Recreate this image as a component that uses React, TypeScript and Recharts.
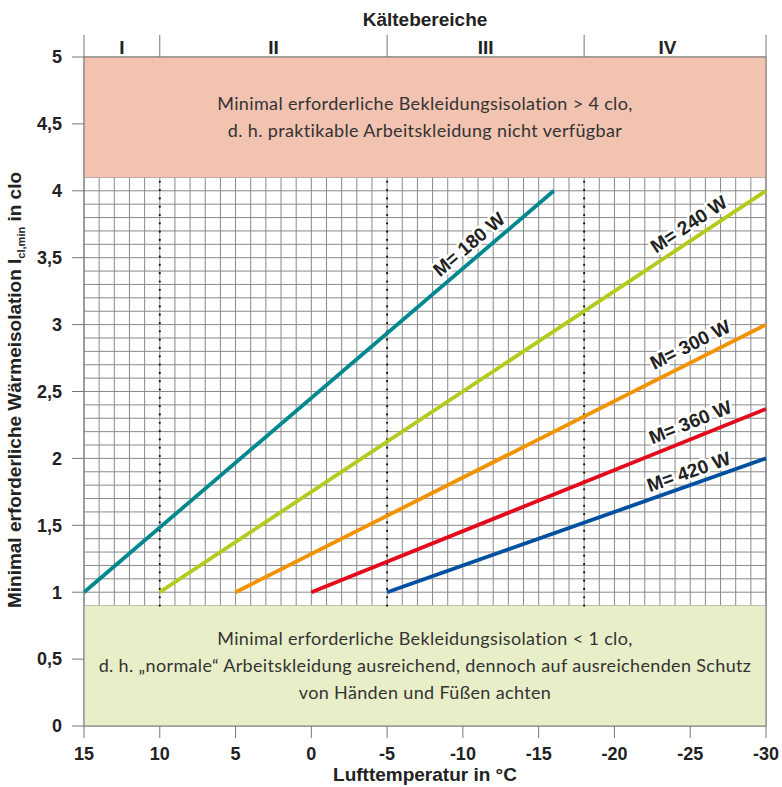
import {
  ComposedChart,
  Line,
  XAxis,
  YAxis,
  CartesianGrid,
  ReferenceArea,
  ReferenceLine,
  ReferenceDot,
  Customized,
} from "recharts";

const xTicks = [15, 10, 5, 0, -5, -10, -15, -20, -25, -30];
const yTicks = [0, 0.5, 1, 1.5, 2, 2.5, 3, 3.5, 4, 4.5, 5];

// fine grid: 1 °C x 0.1 clo
const gridX = Array.from({ length: 46 }, (_, i) => 15 - i);
const gridY = Array.from({ length: 51 }, (_, i) => i / 10);

// Kältebereiche I–IV
const rangeBounds = [15, 10, -5, -18, -30];
const rangeLabels = ["I", "II", "III", "IV"];
const rangeLabelX = [12.5, 2.5, -11.5, -23.5];
const dottedX = [10, -5, -18];

// minimal clothing insulation per metabolic rate
const m180 = [{ t: 15, clo: 1 }, { t: -16, clo: 4 }];
const m240 = [{ t: 10, clo: 1 }, { t: -30, clo: 4 }];
const m300 = [{ t: 5, clo: 1 }, { t: -30, clo: 3 }];
const m360 = [{ t: 0, clo: 1 }, { t: -30, clo: 2.37 }];
const m420 = [{ t: -5, clo: 1 }, { t: -30, clo: 2 }];

const seriesNames = ["M= 180 W", "M= 240 W", "M= 300 W", "M= 360 W", "M= 420 W"];
const seriesData = [m180, m240, m300, m360, m420];
const seriesColors = ["#00878F", "#B4CB1E", "#F39200", "#E30A1C", "#0050A0"];

// where the "M= ..." labels sit (°C, clo) and their tilt
const labelT = [-10.4, -24.9, -25, -25, -24.9];
const labelClo = [3.6, 3.75, 2.85, 2.27, 1.9];
const labelAngle = [-40.5, -33.5, -26.7, -21.9, -19.3];

const upperText = [
  "Minimal erforderliche Bekleidungsisolation > 4 clo,",
  "d. h. praktikable Arbeitskleidung nicht verfügbar",
];
const lowerText = [
  "Minimal erforderliche Bekleidungsisolation < 1 clo,",
  "d. h. „normale“ Arbeitskleidung ausreichend, dennoch auf ausreichenden Schutz",
  "von Händen und Füßen achten",
];

const AXIS = "#777";
const TEXT = "#222";
// band above the plot holding the Kältebereiche, in clo units
const BAND_TOP = 5.165;
const BAND_LABEL = 5.07;

const areaText = (lines: string[]) => (p: any) => (
  <g>
    {lines.map((s, i) => (
      <text
        key={i}
        x={p.cx}
        y={p.cy + (i - (lines.length - 1) / 2) * 27 + 6}
        textAnchor="middle"
        fontFamily="Lato, 'Open Sans', sans-serif"
        fontSize={18}
        letterSpacing={0.35}
        fill="#333"
      >
        {s}
      </text>
    ))}
  </g>
);

const lineLabel = (name: string, angle: number) => (p: any) => (
  <text
    x={p.cx}
    y={p.cy}
    transform={`rotate(${angle} ${p.cx} ${p.cy})`}
    textAnchor="middle"
    dominantBaseline="central"
    fontSize={19}
    fontWeight="bold"
    fill={TEXT}
    stroke="#fff"
    strokeWidth={5}
    strokeLinejoin="round"
    paintOrder="stroke"
  >
    {name}
  </text>
);

const rangeLabel = (name: string) => (p: any) => (
  <text
    x={p.cx}
    y={p.cy}
    textAnchor="middle"
    dominantBaseline="central"
    fontSize={19}
    fontWeight="bold"
    fill={TEXT}
  >
    {name}
  </text>
);

const Titles = () => (
  <g fontWeight="bold" fontSize={19} fill={TEXT}>
    <text x={425} y={26} textAnchor="middle">
      Kältebereiche
    </text>
    <text x={425} y={781} textAnchor="middle">
      Lufttemperatur in °C
    </text>
    <text transform="translate(21 390) rotate(-90)" textAnchor="middle">
      Minimal erforderliche Wärmeisolation I
      <tspan fontSize={11} dy={4}>
        cl,min
      </tspan>
      <tspan dy={-4}> in clo</tspan>
    </text>
  </g>
);

export default function App() {
  return (
    <div>
      <style>{"body{margin:0}"}</style>
      <ComposedChart
        width={782}
        height={787}
        margin={{ top: 57, right: 16, bottom: 21, left: 24 }}
        style={{ fontFamily: "'Liberation Sans', Arial, sans-serif" }}
      >
        <XAxis
          dataKey="t"
          type="number"
          domain={[-30, 15]}
          reversed
          ticks={xTicks}
          interval={0}
          height={40}
          tickSize={12}
          tickMargin={9}
          stroke={AXIS}
          tick={{ fontSize: 18, fontWeight: "bold", fill: TEXT }}
        />
        <YAxis
          type="number"
          domain={[0, 5]}
          ticks={yTicks}
          interval={0}
          width={60}
          tickSize={12}
          tickMargin={10}
          stroke={AXIS}
          tickFormatter={(v: number) => String(v).replace(".", ",")}
          tick={{ fontSize: 18, fontWeight: "bold", fill: TEXT }}
        />
        <CartesianGrid verticalValues={gridX} horizontalValues={gridY} stroke="#8a8a8a" strokeWidth={1} />
        <ReferenceArea y1={4.1} y2={5} fill="#F2C3B0" fillOpacity={1} stroke="none" />
        <ReferenceArea y1={0} y2={0.9} fill="#E8EFC8" fillOpacity={1} stroke="none" />
        <ReferenceLine x={-30} stroke={AXIS} />
        <ReferenceLine y={5} stroke={AXIS} />
        {rangeBounds.map((x) => (
          <ReferenceLine
            key={"b" + x}
            segment={[
              { x, y: 5 },
              { x, y: BAND_TOP },
            ]}
            ifOverflow="visible"
            stroke={AXIS}
          />
        ))}
        {rangeLabels.map((n, i) => (
          <ReferenceDot
            key={n}
            x={rangeLabelX[i]}
            y={BAND_LABEL}
            r={0}
            ifOverflow="visible"
            shape={rangeLabel(n)}
          />
        ))}
        {dottedX.map((x) => (
          <ReferenceLine
            key={x}
            segment={[
              { x, y: 0.9 },
              { x, y: 4.1 },
            ]}
            stroke="#111"
            strokeWidth={2.2}
            strokeDasharray="0.01 8.3"
            strokeLinecap="round"
          />
        ))}
        {seriesData.map((d, i) => (
          <Line
            key={seriesNames[i]}
            data={d}
            dataKey="clo"
            type="linear"
            stroke={seriesColors[i]}
            strokeWidth={3.8}
            dot={false}
            activeDot={false}
            isAnimationActive={false}
          />
        ))}
        {seriesNames.map((n, i) => (
          <ReferenceDot
            key={n}
            x={labelT[i]}
            y={labelClo[i]}
            r={0}
            shape={lineLabel(n, labelAngle[i])}
          />
        ))}
        <ReferenceDot x={-7.5} y={4.55} r={0} shape={areaText(upperText)} />
        <ReferenceDot x={-7.5} y={0.45} r={0} shape={areaText(lowerText)} />
        <Customized component={Titles} />
      </ComposedChart>
    </div>
  );
}
